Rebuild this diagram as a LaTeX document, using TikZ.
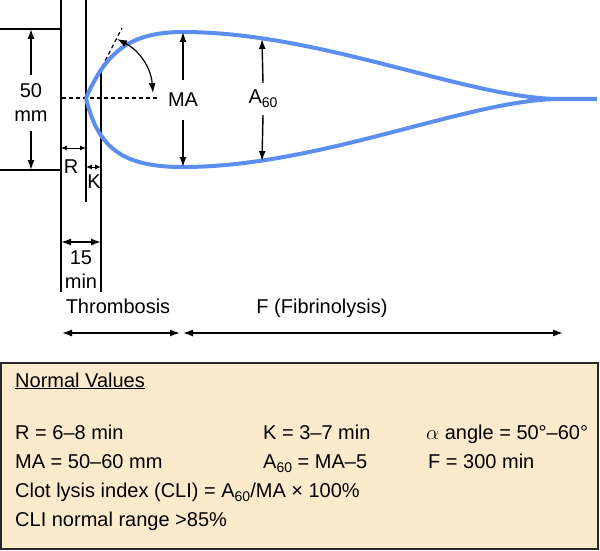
\documentclass[tikz,border=0pt]{standalone}
\usepackage{fontspec}
\setmainfont{Liberation Sans}
\usetikzlibrary{arrows.meta}
\definecolor{curveblue}{RGB}{92,142,240}
\definecolor{boxfill}{RGB}{252,234,204}
\definecolor{boxline}{RGB}{40,40,40}
\newcommand{\mysub}[1]{\raisebox{-4pt}{\fontsize{14}{14}\selectfont #1}}
\tikzset{
  lbl/.style={font=\fontsize{20}{24}\selectfont, inner sep=0pt},
  blk/.style={line width=1.4pt, black},
  dsh/.style={line width=1.2pt, black, dash pattern=on 4pt off 3pt},
  onearrow/.style={blk, -{Latex[length=10pt,width=7pt]}},
  twoarrow/.style={blk, {Latex[length=10pt,width=7pt]}-{Latex[length=10pt,width=7pt]}},
  smallarrow/.style={line width=1pt, {Latex[length=6pt,width=5pt]}-{Latex[length=6pt,width=5pt]}},
  tegcurve/.style={line width=4pt, curveblue},
}
\begin{document}
\begin{tikzpicture}[x=1pt, y=-1pt]
\useasboundingbox (0,0) rectangle (600,551);

% ---- coordinates
\coordinate (S) at (86,98);
\coordinate (Top) at (183,32);
\coordinate (Bot) at (183,167);
\coordinate (Meet) at (560,99);
\coordinate (Tail) at (597,99);
\coordinate (L1t) at (61,0);   \coordinate (L1b) at (61,292);
\coordinate (L2t) at (86,0);   \coordinate (L2b) at (86,202);
\coordinate (L3t) at (101,70); \coordinate (L3b) at (101,292);
\coordinate (H1a) at (0,29);   \coordinate (H1b) at (61,29);
\coordinate (H2a) at (0,170);  \coordinate (H2b) at (61,170);
\coordinate (F50t) at (31,29); \coordinate (F50b) at (31,170);
\coordinate (Ra) at (61,148);  \coordinate (Rb) at (86,148);
\coordinate (Ka) at (86,167);  \coordinate (Kb) at (101,167);
\coordinate (Qa) at (61,242);  \coordinate (Qb) at (101,242);
\coordinate (dashL) at (62,98); \coordinate (dashR) at (157,98);
\coordinate (tanEnd) at (122,28);
\coordinate (ang1) at (117,39); \coordinate (ang2) at (153,93);
\coordinate (A60t) at (262,39); \coordinate (A60b) at (262,161);
\coordinate (Tha) at (62,333);  \coordinate (Thb) at (180,333);
\coordinate (Fa) at (183,333);  \coordinate (Fb) at (563,333);

% ---- black frame lines
\draw[blk] (L1t) -- (L1b);
\draw[blk] (L2t) -- (L2b);
\draw[blk] (L3t) -- (L3b);
\draw[blk] (H1a) -- (H1b);
\draw[blk] (H2a) -- (H2b);

% ---- dashed lines
\draw[dsh] (dashL) -- (dashR);
\draw[dsh] (S) -- (tanEnd);

% ---- TEG curve
\draw[tegcurve] (S) .. controls (106,52) and (130,32) .. (Top)
  .. controls (320,32) and (470,99) .. (Meet) -- (Tail);
\draw[tegcurve] (S) .. controls (98,150) and (125,167) .. (Bot)
  .. controls (320,167) and (470,99) .. (Meet);

% ---- labels
\node[lbl, align=center, minimum height=55pt] (fifty) at (31,103) {50\\mm};
\draw[onearrow] (fifty.north) -- (F50t);
\draw[onearrow] (fifty.south) -- (F50b);

\node[lbl, minimum height=40pt] (MA) at (183,100) {MA};
\draw[onearrow] (MA.north) -- (Top);
\draw[onearrow] (MA.south) -- (Bot);

\node[lbl, minimum height=32pt] (A60) at (263,99) {A\mysub{60}};
\draw[onearrow] (A60.north) -- (A60t);
\draw[onearrow] (A60.south) -- (A60b);

\draw[twoarrow, line width=1.2pt] (ang1) to[bend left=29] (ang2);

\draw[smallarrow] (Ra) -- (Rb);
\draw[smallarrow] (Ka) -- (Kb);
\node[lbl] (R) at (71,167) {R};
\node[lbl] (K) at (94,182) {K};

\draw[twoarrow] (Qa) -- (Qb);
\node[lbl, align=center] (fifteen) at (81,270) {15\\min};

\node[lbl, anchor=base] (thromb) at (118,313) {Thrombosis};
\node[lbl, anchor=base] (fibrin) at (322,313) {F (Fibrinolysis)};
\draw[twoarrow] (Tha) -- (Thb);
\draw[twoarrow] (Fa) -- (Fb);

% ---- normal values box
\path[draw=boxline, line width=1.5pt, fill=boxfill] (1,363) rectangle (598,549);
\node[lbl, anchor=base west] (nv) at (15,387) {\underline{Normal Values}};
\node[lbl, anchor=base west] (r1a) at (15,439) {R = 6–8 min};
\node[lbl, anchor=base west] (r1b) at (263,439) {K = 3–7 min};
\node[lbl, anchor=base west] (r1c) at (426,439) {$\alpha$ angle = 50°–60°};
\node[lbl, anchor=base west] (r2a) at (15,468) {MA = 50–60 mm};
\node[lbl, anchor=base west] (r2b) at (263,468) {A\mysub{60} = MA–5};
\node[lbl, anchor=base west] (r2c) at (428,468) {F = 300 min};
\node[lbl, anchor=base west] (r3) at (15,497) {Clot lysis index (CLI) = A\mysub{60}/MA × 100\%};
\node[lbl, anchor=base west] (r4) at (15,526) {CLI normal range >85\%};
\end{tikzpicture}
\end{document}
